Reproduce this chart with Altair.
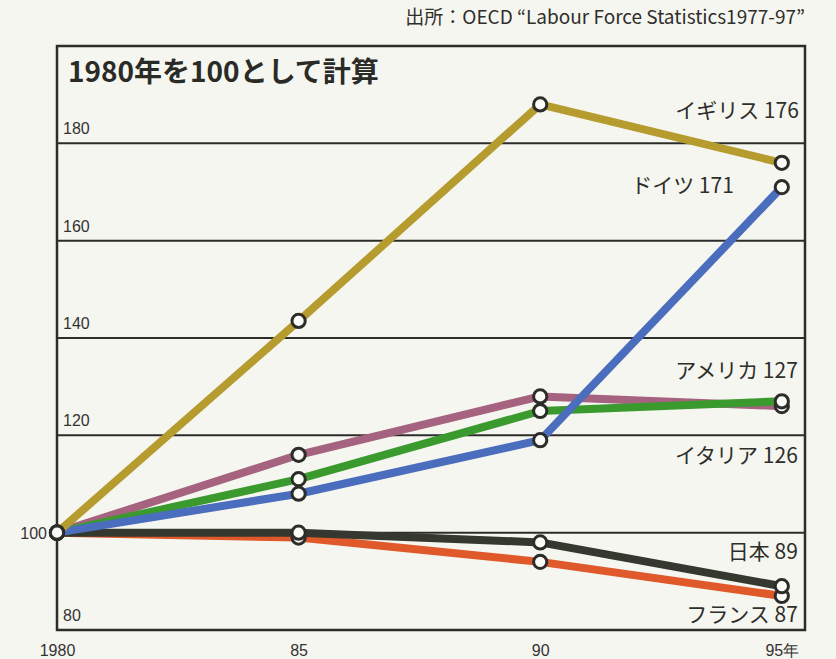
import altair as alt
import pandas as pd

# Index values (1980 = 100)
years = [1980, 1985, 1990, 1995]
countries = ["フランス", "日本", "イタリア", "アメリカ", "ドイツ", "イギリス"]
france = [100, 99, 94, 87]
japan = [100, 100, 98, 89]
italy = [100, 116, 128, 126]
usa = [100, 111, 125, 127]
germany = [100, 108, 119, 171]
uk = [100, 143.5, 188, 176]
series = [france, japan, italy, usa, germany, uk]
colors = ["#e0592b", "#35382e", "#a5637f", "#3b9a2e", "#4b6dbd", "#b69b2f"]

grid_values = [100, 120, 140, 160, 180]
y_label_values = [80, 120, 140, 160, 180]
x_label_text = ["1980", "85", "90", "95年"]

title_text = "1980年を100として計算"
source_text = "出所：OECD “Labour Force Statistics1977-97”"

# end-of-line labels: (dx, dy) offsets from each series' 1995 point
label_offsets = {
    "イギリス": (17, -51),
    "ドイツ": (-48, 0),
    "アメリカ": (16, -29),
    "イタリア": (16, 51),
    "日本": (16, -33),
    "フランス": (16, 20),
}

rows = []
for name, vals in zip(countries, series):
    for yr, v in zip(years, vals):
        rows.append({"country": name, "year": yr, "value": v})
df = pd.DataFrame(rows)

W, H = 748, 584
XMIN, XMAX = 1980, 1995.48
YMIN, YMAX = 80, 200
INK = "#2c2d28"
JP_FONT = "Noto Sans CJK JP"
NUM_FONT = "Liberation Sans"

xs = alt.Scale(domain=[XMIN, XMAX], nice=False, zero=False)
ys = alt.Scale(domain=[YMIN, YMAX], nice=False, zero=False)

x_label_expr = "[" + ",".join(f"'{t}'" for t in x_label_text) + "][indexof(" + str(years) + ", datum.value)]"
x_axis = alt.Axis(values=years, labelExpr=x_label_expr, domain=False, ticks=False,
                  grid=False, title=None, labelFontSize=16, labelFont=NUM_FONT,
                  labelColor="#333333", labelPadding=12, labelFlush=False)


def xenc(field):
    return alt.X(field, scale=xs, axis=x_axis)


def yenc(field):
    return alt.Y(field, scale=ys, axis=None)


grid = alt.Chart(pd.DataFrame({"v": grid_values})).mark_rule(
    color=INK, strokeWidth=2
).encode(
    y=yenc("v:Q"),
)

y_labels = alt.Chart(pd.DataFrame({"v": y_label_values, "x": [1980] * len(y_label_values)})).mark_text(
    align="left", baseline="alphabetic", dx=6, dy=-9, fontSize=16, font=NUM_FONT, color="#333333"
).encode(
    x=xenc("x:Q"),
    y=yenc("v:Q"),
    text=alt.Text("v:Q"),
)

y_label_100 = alt.Chart(pd.DataFrame({"v": [100], "x": [1980]})).mark_text(
    align="right", baseline="middle", dx=-10, dy=1, fontSize=16, font=NUM_FONT, color="#333333"
).encode(
    x=xenc("x:Q"),
    y=yenc("v:Q"),
    text=alt.Text("v:Q"),
)

line_layers = []
for name, col in zip(countries, colors):
    line_layers.append(
        alt.Chart(df[df.country == name]).mark_line(
            color=col, strokeWidth=8, strokeJoin="round", strokeCap="butt"
        ).encode(
            x=xenc("year:Q"),
            y=yenc("value:Q"),
            order="year:Q",
        )
    )

points = alt.Chart(df).mark_point(
    shape="circle", filled=True, fill="#fbfbf7", stroke=INK, strokeWidth=3, size=175, opacity=1
).encode(
    x=xenc("year:Q"),
    y=yenc("value:Q"),
)

end_df = df[df.year == 1995].copy()
end_df["label"] = end_df.country + " " + end_df.value.map(lambda v: f"{v:g}")
label_layers = []
for name in countries:
    dx, dy = label_offsets[name]
    label_layers.append(
        alt.Chart(end_df[end_df.country == name]).mark_text(
            align="right", baseline="middle", dx=dx, dy=dy, fontSize=21, font=JP_FONT, color="#2e2e2a"
        ).encode(
            x=xenc("year:Q"),
            y=yenc("value:Q"),
            text="label:N",
        )
    )

title = alt.Chart(pd.DataFrame({"t": [title_text]})).mark_text(
    align="left", baseline="middle", fontSize=28, fontWeight="bold", font=JP_FONT, color="#2a2b26"
).encode(
    x=alt.value(11), y=alt.value(28), text="t:N",
)

source = alt.Chart(pd.DataFrame({"t": [source_text]})).mark_text(
    align="right", baseline="middle", fontSize=19, font=JP_FONT, color="#2e2e2a"
).encode(
    x=alt.value(W), y=alt.value(-28), text="t:N",
)

chart = alt.layer(
    grid, y_labels, y_label_100, *line_layers, points, *label_layers, title, source
).properties(
    width=W,
    height=H,
    padding={"left": 57, "top": 46, "right": 31, "bottom": 29},
    autosize=alt.AutoSizeParams(type="none"),
).configure(
    background="#f6f6f1",
).configure_view(
    stroke=INK, strokeWidth=2.5, fill="#f6f6f1",
)

chart.save("out.html", embed_options={"renderer": "svg", "actions": False})
